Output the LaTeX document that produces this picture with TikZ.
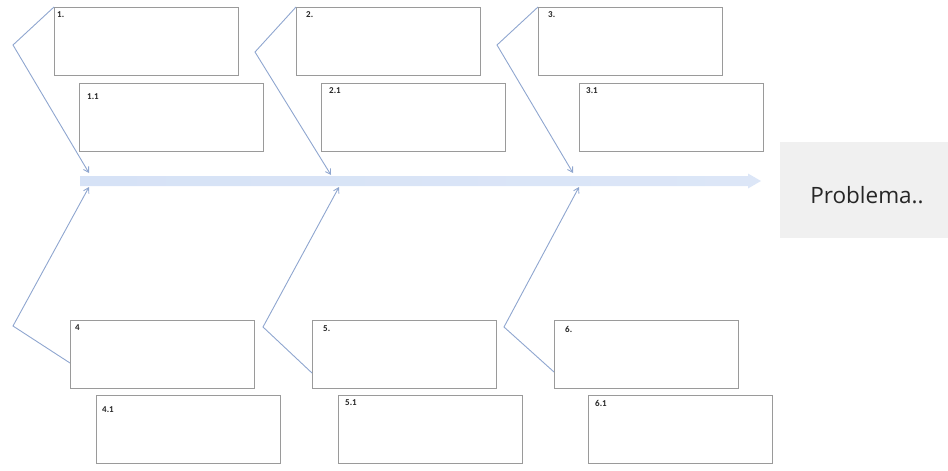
\documentclass[tikz,border=0pt]{standalone}
\usepackage{fontspec}
\setmainfont{Carlito}
\newfontfamily\pfont{Open Sans}
\usetikzlibrary{arrows.meta,calc}
\definecolor{branchc}{HTML}{8FA6CF}
\definecolor{boxc}{HTML}{9A9A9A}
\definecolor{probfill}{HTML}{F0F0F0}
\definecolor{spineL}{HTML}{D6E2F6}
\definecolor{spineM}{HTML}{92B0E4}
\definecolor{spineR}{HTML}{DCE6F7}
\tikzset{
  causebox/.style={draw=boxc, line width=0.8pt, fill=white, minimum width=184pt, minimum height=68pt, anchor=north west, inner sep=0pt},
  lbl/.style={font=\fontsize{9}{10}\selectfont\bfseries, text=black!85, anchor=west, inner sep=0pt},
  branch/.style={draw=branchc, line width=0.9pt},
  brarrow/.style={branch, -{Straight Barb[length=5pt,width=6pt]}},
}
\begin{document}
\begin{tikzpicture}[x=1pt,y=-1pt]
\useasboundingbox (0,0) rectangle (948,471);
% spine
\shade[left color=spineL, middle color=spineM, right color=spineR]
  (80,176) -- (748,176) -- (748,173.5) -- (761,181) -- (748,188.5) -- (748,186) -- (80,186) -- cycle;
% problem box
\node[fill=probfill, minimum width=168pt, minimum height=96pt, anchor=north west, inner sep=0pt] (prob) at (780,142) {};
\node[font=\pfont\fontsize{22.5}{26}\selectfont, text=black!85] (probt) at (867,195) {Problema..};
% boxes
\node[causebox] (b1) at (54,7) {};
\node[causebox] (b11) at (79,83) {};
\node[causebox] (b2) at (296,7) {};
\node[causebox] (b21) at (321,83) {};
\node[causebox] (b3) at (538,7) {};
\node[causebox] (b31) at (579,83) {};
\node[causebox] (b4) at (70,320) {};
\node[causebox] (b41) at (96,395) {};
\node[causebox] (b5) at (312,320) {};
\node[causebox] (b51) at (338,395) {};
\node[causebox] (b6) at (554,320) {};
\node[causebox] (b61) at (588,395) {};
% labels
\node[lbl] (l1) at (57,15) {1.};
\node[lbl] (l11) at (87,97) {1.1};
\node[lbl] (l2) at (306,15) {2.};
\node[lbl] (l21) at (329,91) {2.1};
\node[lbl] (l3) at (548,15) {3.};
\node[lbl] (l31) at (586,91) {3.1};
\node[lbl] (l4) at (75,328) {4};
\node[lbl] (l41) at (102,410) {4.1};
\node[lbl] (l5) at (323,329) {5.};
\node[lbl] (l51) at (345,403) {5.1};
\node[lbl] (l6) at (565,329) {6.};
\node[lbl] (l61) at (595,403) {6.1};
% branch coordinates
\coordinate (c1) at (13,45);  \coordinate (t1) at (89,173);
\coordinate (c2) at (255,52); \coordinate (t2) at (331,175);
\coordinate (c3) at (497,45); \coordinate (t3) at (573,173);
\coordinate (s4) at (70,363); \coordinate (c4) at (13,326); \coordinate (t4) at (89,187);
\coordinate (s5) at (312,373); \coordinate (c5) at (263,327); \coordinate (t5) at (339,187);
\coordinate (s6) at (554,372); \coordinate (c6) at (504,327); \coordinate (t6) at (579,187);
\draw[brarrow] (b1.north west) -- (c1) -- (t1);
\draw[brarrow] (b2.north west) -- (c2) -- (t2);
\draw[brarrow] (b3.north west) -- (c3) -- (t3);
\draw[brarrow] (s4) -- (c4) -- (t4);
\draw[brarrow] (s5) -- (c5) -- (t5);
\draw[brarrow] (s6) -- (c6) -- (t6);
\end{tikzpicture}
\end{document}
